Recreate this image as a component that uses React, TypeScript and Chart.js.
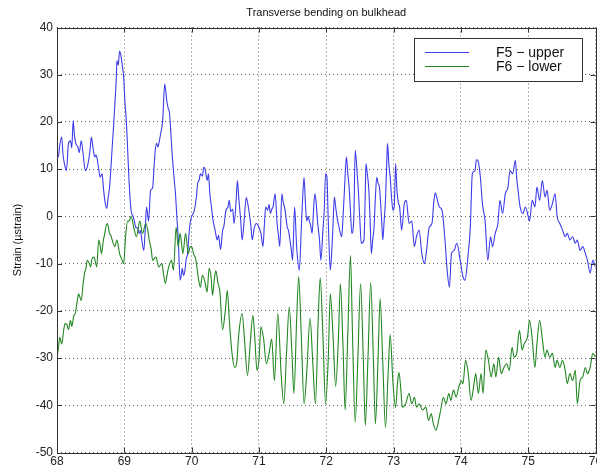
import React, { useEffect, useRef } from "react";
import { Chart, registerables } from "chart.js";

Chart.register(...registerables);

const TITLE = "Transverse bending on bulkhead";
const Y_LABEL = "Strain (µstrain)";
const SERIES_NAMES = ["F5 − upper", "F6 − lower"];
const X_TICKS = [68, 69, 70, 71, 72, 73, 74, 75, 76];
const Y_TICKS = [-50, -40, -30, -20, -10, 0, 10, 20, 30, 40];

const f5X = [
  68.0, 68.02, 68.04, 68.07, 68.09, 68.11, 68.14, 68.17, 68.2, 68.22, 68.24, 68.26, 68.28, 68.31, 68.33, 68.36, 68.39, 68.42, 68.45, 68.47,
  68.49, 68.51, 68.54, 68.56, 68.58, 68.6, 68.62, 68.64, 68.67, 68.69, 68.71, 68.74, 68.76, 68.78, 68.8, 68.82, 68.84, 68.86, 68.88, 68.89,
  68.91, 68.93, 68.95, 68.97, 68.99, 69.01, 69.03, 69.05, 69.07, 69.1, 69.13, 69.15, 69.17, 69.2, 69.22, 69.24, 69.26, 69.29, 69.31, 69.33,
  69.36, 69.39, 69.42, 69.44, 69.46, 69.48, 69.5, 69.52, 69.54, 69.57, 69.6, 69.62, 69.63, 69.65, 69.67, 69.69, 69.71, 69.74, 69.76, 69.78,
  69.8, 69.83, 69.85, 69.86, 69.88, 69.9, 69.92, 69.94, 69.97, 70.0, 70.02, 70.04, 70.07, 70.09, 70.11, 70.13, 70.16, 70.18, 70.2, 70.23,
  70.25, 70.27, 70.3, 70.32, 70.35, 70.38, 70.4, 70.43, 70.46, 70.48, 70.51, 70.54, 70.56, 70.58, 70.61, 70.63, 70.66, 70.68, 70.7, 70.73,
  70.75, 70.78, 70.81, 70.83, 70.85, 70.88, 70.9, 70.93, 70.96, 71.0, 71.03, 71.06, 71.08, 71.1, 71.13, 71.15, 71.17, 71.19, 71.21, 71.24,
  71.27, 71.29, 71.31, 71.34, 71.36, 71.38, 71.4, 71.42, 71.44, 71.46, 71.48, 71.5, 71.53, 71.56, 71.6, 71.63, 71.65, 71.67, 71.69, 71.71,
  71.73, 71.75, 71.77, 71.79, 71.81, 71.83, 71.85, 71.87, 71.9, 71.92, 71.95, 71.97, 71.99, 72.01, 72.03, 72.06, 72.08, 72.1, 72.12, 72.14,
  72.16, 72.19, 72.23, 72.25, 72.27, 72.3, 72.32, 72.34, 72.36, 72.38, 72.41, 72.43, 72.46, 72.48, 72.5, 72.52, 72.56, 72.58, 72.59, 72.61,
  72.63, 72.65, 72.67, 72.69, 72.71, 72.73, 72.75, 72.77, 72.79, 72.82, 72.84, 72.86, 72.88, 72.9, 72.91, 72.93, 72.95, 72.97, 72.99, 73.01,
  73.03, 73.05, 73.07, 73.09, 73.12, 73.16, 73.19, 73.23, 73.27, 73.31, 73.34, 73.38, 73.42, 73.46, 73.49, 73.53, 73.57, 73.6, 73.62, 73.64,
  73.68, 73.72, 73.76, 73.8, 73.83, 73.86, 73.9, 73.94, 73.99, 74.03, 74.06, 74.1, 74.14, 74.17, 74.21, 74.23, 74.25, 74.29, 74.32, 74.36,
  74.4, 74.44, 74.47, 74.51, 74.55, 74.58, 74.62, 74.66, 74.7, 74.73, 74.77, 74.81, 74.83, 74.85, 74.88, 74.92, 74.96, 75.0, 75.02, 75.06,
  75.1, 75.13, 75.17, 75.21, 75.25, 75.28, 75.32, 75.36, 75.4, 75.43, 75.47, 75.51, 75.55, 75.58, 75.62, 75.66, 75.7, 75.73, 75.77, 75.81,
  75.85, 75.88, 75.92, 75.96, 76.0,
];
const f5Y = [
  13.3, 12.6, 15, 16.8, 13, 11.2, 9.7, 15.4, 16, 14.5, 20.3, 17, 15.4, 14.7, 13.5, 16, 13, 9.7, 10.5, 11.9,
  14, 16.8, 14, 12.6, 13, 11.9, 10, 8.3, 9, 6, 3.4, 1.7, 4, 6, 10, 14.7, 19, 23.9, 29, 33,
  32, 35, 34, 32, 29.5, 24, 20.3, 14, 7.6, 1.3, 0, -1, -2.3, -2.5, -3.6, -3, -5, -7.2, -3, 2,
  -1, 5.5, 6, 10, 14, 15.5, 14.7, 16, 17.5, 20.3, 28, 26, 24.6, 23, 22, 18, 13.4, 8, 4.8, 0,
  -4.3, -13.5, -12, -11, -12.5, -11.5, -9, -7.9, -2.3, 0, 0.5, 1.3, 4, 7, 7.6, 9, 8.5, 10.4, 10, 7.6,
  9, 5, 1.3, -1, -3, -5, -4, -7, -3, -2, 1.3, 2, 3.4, 1, 1.5, -1.5, 3, 7.6, 4, -1,
  -5, -1, 4, 3, 1.3, -2, -5, -2.5, -1.5, -2.3, -3.6, -6.4, -2, 2, 1.3, 2.5, 0.6, 1.5, 2, 4.8,
  -1.5, -4, -6.4, 4.8, 3, 2, 0, -2.3, -3, -5, -7, -9.3, 2, -6.4, -11.4, -2.3, 4, 8.3, 3, -1,
  0, -1, -2, -3.6, 1, 4.8, 3, -1, -5, -9.3, -3, 1.3, 9, 8.3, -1, -11.4, -7.9, -2, 4.1, 2,
  -0.1, -2.3, -4.3, 0, 5.5, 12.6, 9, 6.2, 1, -3.6, 0, 14, 9, 4.8, -1, -5.7, -5, 5, 11.2, 9,
  6.2, 0, -7.9, -5, -2.3, 4, 8.3, 7, 6.2, 0, -5, -1, 3.4, 12, 15.5, 11, 8.3, 4, 1.3, 2,
  11.2, 5.5, 3, 2, -2.9, 2.7, 3.4, -1.5, -1, -6.4, -4.3, -2.9, -7.9, -10, -7.2, -2.3, -1.5, 3.4, 5, 4.1,
  2, 1.3, -4.3, -12, -15, -7.9, -7.2, -5.7, -9.3, -12.7, -13.5, -9.3, -2.3, 9, 9.7, 12, 11.9, 8.3, 2.7, -1,
  -9.3, -4.3, -6.4, -3.6, -1.5, 3.4, 0.6, 4.8, 6.2, 9.7, 9, 11.9, 8, 5.5, 2, 0.6, 2, 0, -1, 3.4,
  2, 6.2, 3.4, 7.6, 4.1, 5.5, 1.3, 2.7, 4.8, 0, -1.5, -2.9, -4.3, -3.6, -5, -4.3, -5.7, -5, -7.2, -6.4,
  -7.9, -9.3, -12, -9.3, -10.7,
];

const f6X = [
  68.0, 68.02, 68.04, 68.07, 68.1, 68.12, 68.15, 68.17, 68.2, 68.22, 68.25, 68.27, 68.3, 68.32, 68.36, 68.39, 68.41, 68.43, 68.45, 68.48,
  68.5, 68.52, 68.55, 68.59, 68.62, 68.64, 68.66, 68.69, 68.71, 68.73, 68.75, 68.78, 68.8, 68.82, 68.86, 68.89, 68.93, 68.96, 68.99, 69.02,
  69.05, 69.07, 69.1, 69.14, 69.18, 69.23, 69.27, 69.32, 69.35, 69.37, 69.4, 69.42, 69.47, 69.51, 69.56, 69.58, 69.61, 69.64, 69.66, 69.7,
  69.73, 69.77, 69.8, 69.83, 69.87, 69.91, 69.95, 69.98, 70.0, 70.03, 70.06, 70.1, 70.13, 70.16, 70.2, 70.23, 70.26, 70.29, 70.31, 70.34,
  70.36, 70.39, 70.42, 70.46, 70.5, 70.53, 70.56, 70.6, 70.64, 70.67, 70.7, 70.75, 70.79, 70.83, 70.87, 70.91, 70.94, 70.97, 71.0, 71.03,
  71.07, 71.11, 71.15, 71.19, 71.23, 71.28, 71.33, 71.37, 71.41, 71.45, 71.49, 71.52, 71.56, 71.59, 71.63, 71.67, 71.71, 71.76, 71.8, 71.84,
  71.88, 71.91, 71.95, 71.99, 72.03, 72.06, 72.1, 72.14, 72.18, 72.21, 72.25, 72.28, 72.32, 72.36, 72.39, 72.43, 72.47, 72.51, 72.55, 72.58,
  72.62, 72.66, 72.7, 72.73, 72.77, 72.8, 72.84, 72.88, 72.92, 72.95, 72.99, 73.03, 73.06, 73.08, 73.11, 73.13, 73.18, 73.23, 73.27, 73.31,
  73.34, 73.38, 73.43, 73.48, 73.52, 73.56, 73.59, 73.63, 73.67, 73.7, 73.74, 73.78, 73.82, 73.85, 73.89, 73.93, 73.97, 74.01, 74.03, 74.07,
  74.11, 74.15, 74.19, 74.22, 74.26, 74.3, 74.33, 74.37, 74.41, 74.45, 74.49, 74.52, 74.56, 74.6, 74.64, 74.68, 74.72, 74.76, 74.79, 74.83,
  74.87, 74.91, 74.94, 74.99, 75.02, 75.06, 75.1, 75.13, 75.17, 75.21, 75.25, 75.28, 75.32, 75.36, 75.4, 75.43, 75.47, 75.51, 75.55, 75.58,
  75.62, 75.66, 75.7, 75.73, 75.77, 75.81, 75.85, 75.88, 75.92, 75.96, 76.0,
];
const f6Y = [
  -29.8, -28, -25.6, -27, -24, -22.7, -23, -24, -22, -23.3, -21, -20.6, -18, -16.4, -17.8, -14, -12, -11, -9.3, -10,
  -10.7, -9, -8.6, -10.7, -5, -6, -7.9, -5, -3.6, -2, -1.5, -3.6, -4, -5, -6.4, -5, -7.9, -9, -10, -4,
  -1, -1, 0, -2.3, -4.3, -1, -3.6, -1.5, -3, -5, -7, -9.3, -8.6, -10.7, -10, -12, -14.2, -12, -10.7, -9.3,
  -11.4, -2.3, -6.4, -3.6, -7.9, -3.6, -7.9, -6.4, -6.4, -8, -9, -13, -15, -12.5, -14, -16, -11, -13, -16.7, -13,
  -11.5, -14, -16, -24, -20, -15.7, -22, -29, -32, -31, -25, -20.6, -27, -33.7, -27, -21, -26, -32.6, -30.5, -23.4,
  -26, -31.2, -29, -26, -34.8, -20.6, -33.4, -39.7, -29, -19.2, -29, -37.5, -22, -12.8, -25.5, -39.7, -33, -21.6, -31, -39.7,
  -22, -13, -25, -39.7, -30, -16.4, -25, -36, -26, -14.2, -28, -41, -25, -8.3, -25, -43.6, -30, -14.2, -30, -44.3,
  -30, -14, -30, -43.9, -30, -17.4, -31, -44.7, -33, -25, -35, -40.5, -35, -33, -37, -40.4, -39.7, -37.5, -39.7, -38.3,
  -40.4, -39.7, -41, -40.4, -43.2, -41.8, -43.9, -45.3, -43.2, -41, -38.3, -39.7, -37.5, -39, -36.8, -38.3, -36, -34.8, -35.5, -30.5,
  -33.3, -39, -36, -33.3, -37.5, -33.3, -37.5, -28.3, -30.5, -34, -31.2, -34, -29.8, -33.3, -32, -31.2, -32.6, -27.7, -29.8, -29,
  -24.1, -28.3, -27, -25.5, -22, -26, -32, -27, -22, -26, -29.8, -28.3, -29.8, -29, -32, -30.5, -32, -30.5, -32.6, -35.4,
  -33.3, -34.8, -32.6, -39.7, -34.8, -34, -32, -33.3, -32, -29, -29.8,
];

const BLUE = "rgb(60,60,235)";
const GREEN = "rgb(35,135,35)";

export default function App() {
  const ref = useRef<HTMLCanvasElement | null>(null);

  useEffect(() => {
    if (!ref.current) return;
    const f5 = f5X.map((x, i) => ({ x, y: f5Y[i] }));
    const f6 = f6X.map((x, i) => ({ x, y: f6Y[i] }));

    const decor = {
      id: "decor",
      beforeDraw(chart: any) {
        const c = chart.ctx;
        c.save();
        c.fillStyle = "#ffffff";
        c.fillRect(0, 0, chart.width, chart.height);
        c.restore();
      },
      afterDraw(chart: any) {
        const c = chart.ctx;
        const a = chart.chartArea;
        const xs = chart.scales.x;
        const ys = chart.scales.y;
        c.save();
        c.strokeStyle = "#333";
        c.lineWidth = 1;
        c.strokeRect(Math.round(a.left) + 0.5, Math.round(a.top) + 0.5, Math.round(a.right - a.left), Math.round(a.bottom - a.top));
        c.beginPath();
        X_TICKS.forEach((v) => {
          const px = Math.round(xs.getPixelForValue(v)) + 0.5;
          c.moveTo(px, a.bottom);
          c.lineTo(px, a.bottom - 5);
          c.moveTo(px, a.top);
          c.lineTo(px, a.top + 5);
        });
        Y_TICKS.forEach((v) => {
          const py = Math.round(ys.getPixelForValue(v)) + 0.5;
          c.moveTo(a.left, py);
          c.lineTo(a.left + 5, py);
          c.moveTo(a.right, py);
          c.lineTo(a.right - 5, py);
        });
        c.stroke();
        c.fillStyle = "#111";
        c.font = "11px 'Liberation Sans', Arial, sans-serif";
        c.textAlign = "center";
        c.textBaseline = "middle";
        c.fillText(TITLE, (a.left + a.right) / 2, 13);
        c.save();
        c.translate(18, (a.top + a.bottom) / 2);
        c.rotate(-Math.PI / 2);
        c.fillText(Y_LABEL, 0, 0);
        c.restore();
        const lx = 414, ly = 38, lw = 168, lh = 43;
        c.fillStyle = "#fff";
        c.fillRect(lx, ly, lw, lh);
        c.strokeStyle = "#333";
        c.strokeRect(lx + 0.5, ly + 0.5, lw, lh);
        const rows = [
          { name: SERIES_NAMES[0], color: BLUE, y: 52 },
          { name: SERIES_NAMES[1], color: GREEN, y: 66 },
        ];
        c.font = "14px 'Liberation Sans', Arial, sans-serif";
        c.textAlign = "left";
        rows.forEach((r) => {
          c.strokeStyle = r.color;
          c.beginPath();
          c.moveTo(425, r.y + 0.5);
          c.lineTo(469, r.y + 0.5);
          c.stroke();
          c.fillStyle = "#111";
          c.fillText(r.name, 496, r.y + 1);
        });
        c.restore();
      },
    };

    const chart = new Chart(ref.current, {
      type: "line",
      data: {
        datasets: [
          { label: SERIES_NAMES[0], data: f5, borderColor: BLUE, borderWidth: 1.1, pointRadius: 0, cubicInterpolationMode: "monotone", order: 1 },
          { label: SERIES_NAMES[1], data: f6, borderColor: GREEN, borderWidth: 1.1, pointRadius: 0, cubicInterpolationMode: "monotone", order: 0 },
        ],
      },
      options: {
        responsive: false,
        animation: false,
        layout: { padding: { top: 27.5, right: 24.5, left: 0, bottom: 0 } },
        plugins: { legend: { display: false }, tooltip: { enabled: false }, title: { display: false } },
        scales: {
          x: {
            type: "linear",
            min: 68,
            max: 76,
            afterBuildTicks: (s: any) => { s.ticks = X_TICKS.map((v) => ({ value: v })); },
            afterFit: (s: any) => { s.height = 16.5; },
            ticks: { color: "#222", font: { family: "'Liberation Sans', Arial, sans-serif", size: 12 }, padding: 2, maxRotation: 0 },
            grid: { color: "#666", lineWidth: 1, drawTicks: false },
            border: { display: false, dash: [1, 3] },
          },
          y: {
            type: "linear",
            min: -50,
            max: 40,
            afterBuildTicks: (s: any) => { s.ticks = Y_TICKS.map((v) => ({ value: v })); },
            afterFit: (s: any) => { s.width = 57; },
            ticks: { color: "#222", font: { family: "'Liberation Sans', Arial, sans-serif", size: 12 }, padding: 4 },
            grid: { color: "#666", lineWidth: 1, drawTicks: false },
            border: { display: false, dash: [1, 3] },
          },
        },
      },
      plugins: [decor],
    } as any);
    return () => chart.destroy();
  }, []);

  return (
    <div style={{ position: "fixed", left: 0, top: 0, width: 597, height: 469, overflow: "hidden", background: "#fff" }}>
      <canvas ref={ref} width={620} height={469} style={{ display: "block", width: 620, height: 469 }} />
    </div>
  );
}
